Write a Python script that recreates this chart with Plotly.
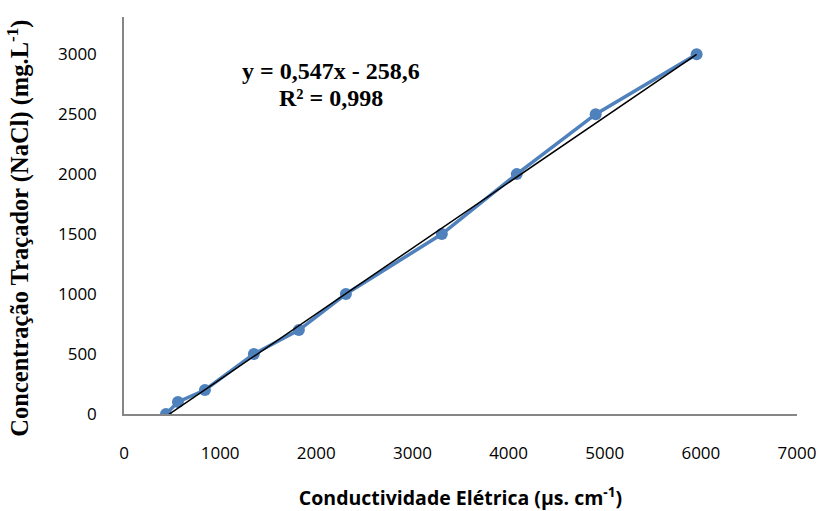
import plotly.graph_objects as go

# Data
conductivity = [437, 561, 842, 1351, 1819, 2308, 3306, 4085, 4906, 5956]
concentration = [0, 100, 200, 500, 700, 1000, 1500, 2000, 2500, 3000]

# Linear trendline coefficients (as printed on the chart)
slope = 0.547
intercept = -258.6
trend_x = [min(conductivity), max(conductivity)]
trend_y = [slope * v + intercept for v in trend_x]

x_ticks = [0, 1000, 2000, 3000, 4000, 5000, 6000, 7000]
y_ticks = [0, 500, 1000, 1500, 2000, 2500, 3000]

fig = go.Figure()
fig.add_trace(go.Scatter(
    x=conductivity, y=concentration, mode="lines+markers",
    line=dict(color="#4F81BD", width=3.5),
    marker=dict(color="#4F81BD", size=12),
    showlegend=False, hoverinfo="skip"))
fig.add_trace(go.Scatter(
    x=trend_x, y=trend_y, mode="lines",
    line=dict(color="black", width=1.5),
    showlegend=False, hoverinfo="skip"))

eq_font = dict(family="Liberation Serif", size=24, color="black")
fig.add_annotation(x=0.308, y=0.864, xref="paper", yref="paper",
                   xanchor="center", yanchor="middle",
                   text="<b>y = 0,547x - 258,6</b>", showarrow=False, font=eq_font)
fig.add_annotation(x=0.308, y=0.797, xref="paper", yref="paper",
                   xanchor="center", yanchor="middle",
                   text="<b>R² = 0,998</b>", showarrow=False, font=eq_font)

# Y axis title as a rotated annotation for exact placement
fig.add_annotation(x=-0.158, y=0.4685, xref="paper", yref="paper",
                   xanchor="center", yanchor="middle", textangle=-90,
                   text="<b>Concentração Traçador (NaCl) (mg.L<sup>-1</sup>)</b>",
                   showarrow=False,
                   font=dict(family="Liberation Serif", size=24.5, color="black"))

fig.update_layout(
    width=825, height=511,
    margin=dict(l=124, r=28, t=17, b=97),
    paper_bgcolor="white", plot_bgcolor="white",
    font=dict(family="Open Sans", size=17, color="black"),
    xaxis=dict(
        range=[0, 7000], tickvals=x_ticks, ticktext=[str(v) for v in x_ticks],
        showgrid=False, zeroline=False, showline=True, automargin=False,
        linecolor="#868686", linewidth=1.5, ticks="",
        ticklabelstandoff=23,
        title=dict(text="<b>Conductividade Elétrica (µs. cm<sup>-1</sup>)</b>",
                   font=dict(family="Open Sans", size=19.5), standoff=28)),
    yaxis=dict(
        range=[0, 3310], tickvals=y_ticks, ticktext=[str(v) for v in y_ticks],
        showgrid=False, zeroline=False, showline=True, automargin=False,
        linecolor="#868686", linewidth=1.5, ticks="",
        ticklabelstandoff=22),
)

fig.write_html("out.html", config={"displayModeBar": False},
               post_script="document.body.style.margin='0';")
